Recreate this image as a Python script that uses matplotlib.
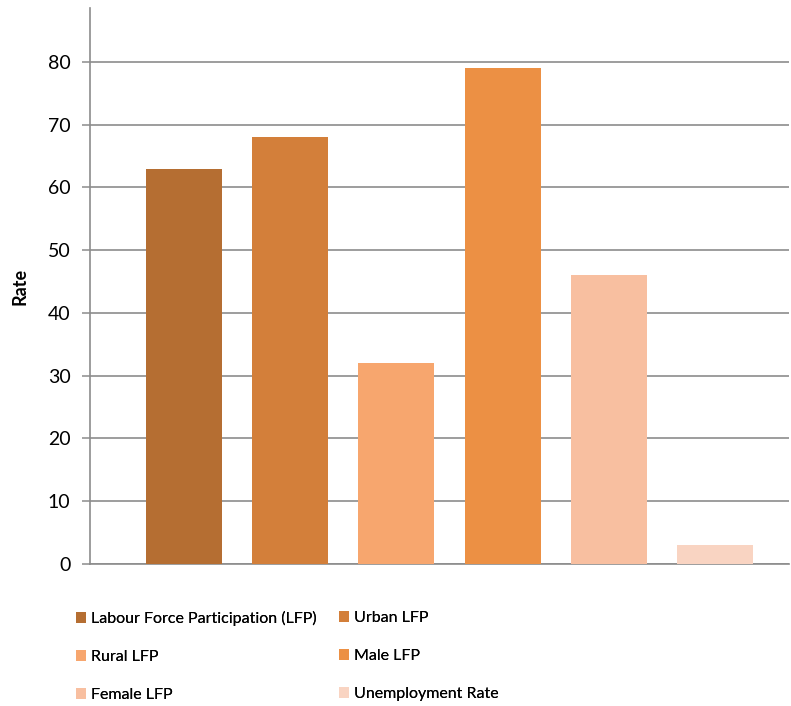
import numpy as np
import matplotlib
matplotlib.use('Agg')
import matplotlib.pyplot as plt
from matplotlib.patches import Patch

series = ['Labour Force Participation (LFP)', 'Urban LFP', 'Rural LFP',
          'Male LFP', 'Female LFP', 'Unemployment Rate']
rates = [63, 68, 32, 79, 46, 3]
colours = ['#B56E32', '#D37F3A', '#F7A66E', '#EC9044', '#F8BFA0', '#F9D4C2']
yticks = [0, 10, 20, 30, 40, 50, 60, 70, 80]

plt.rcParams['font.family'] = ['Lato', 'DejaVu Sans']
grey = '#8C8C8C'

fig = plt.figure(figsize=(7.91, 7.06), dpi=100)
ax = fig.add_axes([90 / 791, 1 - 564 / 706, (789 - 90) / 791, (564 - 8) / 706])

x = np.arange(len(rates))
ax.bar(x, rates, width=0.716, color=colours, zorder=3)

ax.set_xlim(-0.885, 5.697)
ax.set_ylim(0, 88.6)
ax.set_yticks(yticks)
ax.set_xticks([])
ax.yaxis.grid(True, color=grey, linewidth=1.2, zorder=0)
ax.tick_params(axis='y', direction='out', length=6, width=1.1, color=grey,
               labelsize=14, pad=8)
for s in ['top', 'right']:
    ax.spines[s].set_visible(False)
for s in ['left', 'bottom']:
    ax.spines[s].set_color(grey)
    ax.spines[s].set_linewidth(1.2)

ax.set_ylabel('Rate', fontsize=13, fontweight='bold', labelpad=14)

# two legend columns, each placed on its own
legend_kw = dict(loc='upper left', frameon=False, fontsize=11.5,
                 handlelength=0.65, handleheight=0.65, handletextpad=0.3,
                 labelspacing=1.5, borderpad=0, borderaxespad=0)
for col, left in enumerate([76, 339]):
    handles = [Patch(facecolor=colours[i], label=series[i])
               for i in range(col, len(series), 2)]
    leg = fig.legend(handles=handles, bbox_to_anchor=(left / 791, 1 - 611 / 706),
                     **legend_kw)
    fig.add_artist(leg)

fig.savefig('out.png', dpi=100)
